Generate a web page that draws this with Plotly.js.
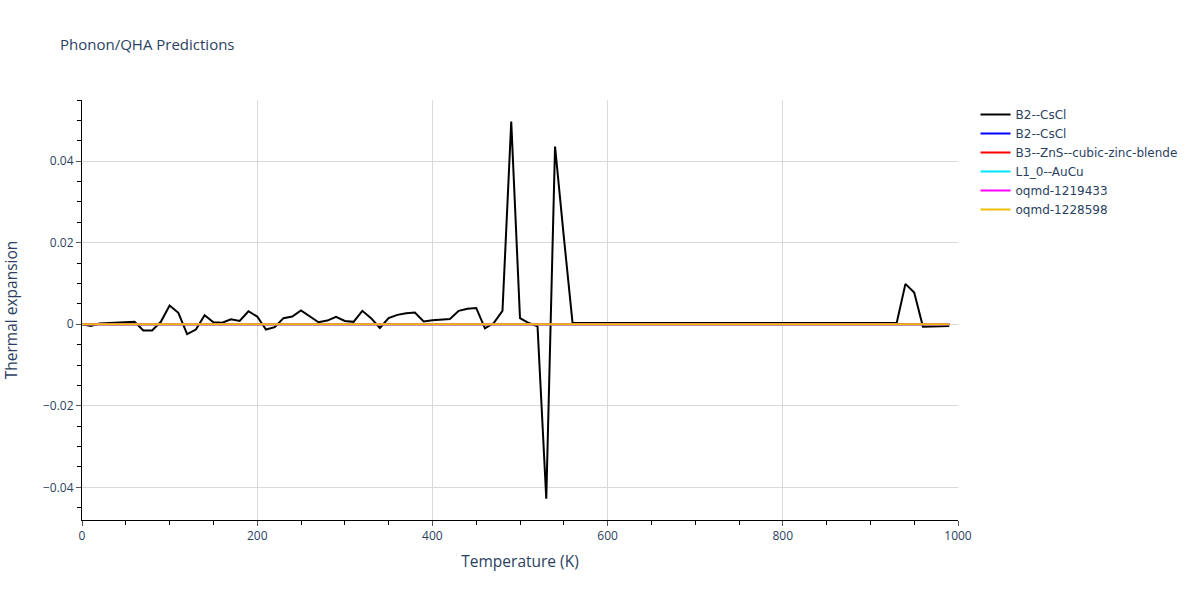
<!DOCTYPE html>
<html>
<head>
<meta charset="utf-8">
<script src="https://cdn.plot.ly/plotly-3.0.1.min.js"></script>
<style>html,body{margin:0;padding:0;background:#fff;}#chart{width:1200px;height:600px;}</style>
</head>
<body>
<div id="chart"></div>
<script>
// Temperatures (K)
const temperature = [0,10,20,30,40,50,60,70,80,90,100,110,120,130,140,150,160,170,180,190,
200,210,220,230,240,250,260,270,280,290,300,310,320,330,340,350,360,370,380,390,
400,410,420,430,440,450,460,470,480,490,500,510,520,530,540,550,560,570,580,590,
600,610,620,630,640,650,660,670,680,690,700,710,720,730,740,750,760,770,780,790,
800,810,820,830,840,850,860,870,880,890,900,910,920,930,940,950,960,970,980,990];

// B2--CsCl (black) thermal expansion
const b2CsClA = [0,-0.0004,0.0002,0.0003,0.0004,0.0005,0.0006,-0.0015,-0.0015,0.0006,
0.0046,0.0028,-0.0024,-0.0013,0.0022,0.0005,0.0004,0.0012,0.0008,0.0032,
0.0019,-0.0013,-0.0007,0.0015,0.0019,0.0034,0.002,0.0005,0.0009,0.0018,
0.0008,0.0006,0.0033,0.0015,-0.0009,0.0015,0.0023,0.0027,0.0029,0.0007,
0.001,0.0012,0.0013,0.0033,0.0038,0.004,-0.001,0.0003,0.0033,0.0497,
0.0015,0.0003,-0.0005,-0.0428,0.0436,0.0215,0.0003,0.0003,0.0003,0.0003,
0.0003,0.0003,0.0003,0.0003,0.0003,0.0003,0.0003,0.0003,0.0003,0.0003,
0.0003,0.0003,0.0003,0.0003,0.0003,0.0003,0.0003,0.0003,0.0003,0.0003,
0.0003,0.0003,0.0003,0.0003,0.0003,0.0003,0.0003,0.0003,0.0003,0.0003,
0.0003,0.0003,0.0003,0.0003,0.0099,0.0078,-0.0006,-0.0006,-0.0005,-0.0004];

// Other structures: essentially zero across the range
const b2CsClB = temperature.map(() => 0);
const b3ZnS = temperature.map(() => 0);
const l10AuCu = temperature.map(() => 0);
const oqmd1219433 = temperature.map(() => 0);
const oqmd1228598 = temperature.map(() => 0);

const seriesNames = ["B2--CsCl","B2--CsCl","B3--ZnS--cubic-zinc-blende","L1_0--AuCu","oqmd-1219433","oqmd-1228598"];
const seriesValues = [b2CsClA,b2CsClB,b3ZnS,l10AuCu,oqmd1219433,oqmd1228598];
const seriesColors = ["#000000","#0000ff","#ff0000","#00e5ff","#ff00ff","#f0bc0a"];

const traces = seriesNames.map((n,i) => ({
  x: temperature, y: seriesValues[i], name: n, type: "scatter", mode: "lines",
  line: {color: seriesColors[i], width: 2}
}));

const axisCommon = {
  showline: true, linecolor: "#000", linewidth: 1,
  ticks: "outside", tickcolor: "#555", ticklen: 5,
  gridcolor: "#d9d9d9", zeroline: true, zerolinecolor: "#d9d9d9", zerolinewidth: 1,
  tickfont: {color: "#2a3f5f", size: 12}
};

const layout = {
  width: 1200, height: 600,
  paper_bgcolor: "#fff", plot_bgcolor: "#fff",
  font: {family: "'Open Sans', sans-serif", color: "#2a3f5f"},
  title: {text: "Phonon/QHA Predictions", x: 0.05, xanchor: "left", y: 0.935, font: {size: 15}},
  margin: {l: 82, r: 242, t: 100, b: 80},
  xaxis: Object.assign({}, axisCommon, {
    title: {text: "Temperature (K)", font: {size: 15.5}, standoff: 12},
    range: [0, 1000], dtick: 200, minor: {dtick: 50, ticks: "outside", ticklen: 4, tickcolor: "#000", showgrid: false}
  }),
  yaxis: Object.assign({}, axisCommon, {
    title: {text: "Thermal expansion", font: {size: 15.5}, standoff: 45},
    range: [-0.048, 0.055], dtick: 0.02, minor: {dtick: 0.005, ticks: "outside", ticklen: 4, tickcolor: "#000", showgrid: false}
  }),
  legend: {x: 1.02, y: 1, xanchor: "left", yanchor: "top", font: {size: 12, family: "'DejaVu Sans', sans-serif"}},
  showlegend: true
};

Plotly.newPlot("chart", traces, layout, {displayModeBar: false});
</script>
</body>
</html>
